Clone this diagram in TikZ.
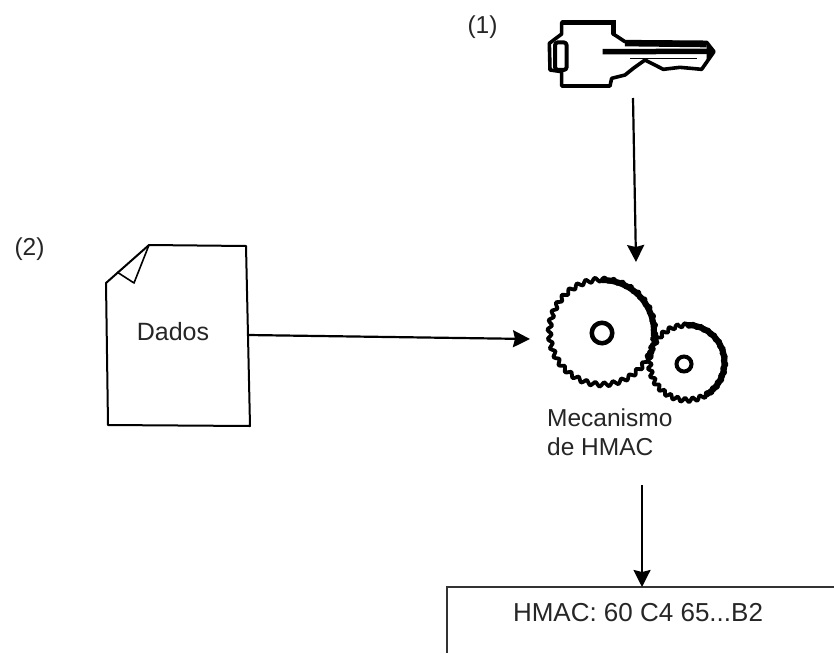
\documentclass[tikz,border=0pt]{standalone}
\usepackage{fontspec}
\setmainfont{Liberation Sans}
\usetikzlibrary{arrows.meta}
\tikzset{
  lbl/.style={font=\fontsize{24.5}{29}\selectfont, text=black!85, inner sep=0pt},
  ink/.style={draw=black, line width=2pt, line join=round},
  conn/.style={draw=black, line width=2.2pt, -{Stealth[length=17pt,width=17pt,inset=2pt]}},
  gearline/.style={draw=black, line width=3.8pt, line join=round}
}
\begin{document}
\begin{tikzpicture}[x=1pt,y=-1pt]
\useasboundingbox (0,0) rectangle (834,653);
\fill[white] (0,0) rectangle (834,653);
% key
\begin{scope}[xshift=530pt,yshift=-10pt,x=.3333pt,y=-.3333pt]
  \draw[ink,line width=3.6pt] (95,38) -- (250,38) -- (250,72) -- (285,95) -- (530,97) -- (552,125) -- (515,178) -- (450,172) -- (400,178) -- (345,150) -- (310,175) -- (285,195) -- (245,205) -- (240,228) -- (95,228) -- (95,185) -- (60,180) -- (58,100) -- (95,72) -- cycle;
  \draw[black,line width=5pt,line cap=round] (98,37) -- (250,37) -- (250,70);
  \draw[ink,line width=4pt,rounded corners=3pt] (75,97) rectangle (110,180);
  \draw[black,line width=5.5pt] (218,125) -- (545,124);
  \draw[black,line width=6pt] (285,100) -- (530,103);
  \draw[black,line width=1.5pt] (300,146) -- (500,146);
  \fill[black] (530,97) -- (556,125) -- (530,150) -- cycle;
\end{scope}
\coordinate (keyfoot) at (633,98);
\coordinate (geartop) at (636,262);
% document
\coordinate (d1) at (149,245);
\coordinate (d2) at (246,246);
\coordinate (d3) at (250,426);
\coordinate (d4) at (108,425);
\coordinate (d5) at (106,283);
\coordinate (d6) at (134,283);
\coordinate (d7) at (117,272);
\draw[ink] (d1) -- (d2) -- (d3) -- (d4) -- (d5) -- cycle;
\draw[ink,line width=1.6pt] (d1) -- (d6) -- (d7);
\node[lbl,font=\fontsize{25}{29}\selectfont] (dados) at (173,332) {Dados};
\coordinate (docout) at (248,335);
\coordinate (gearin) at (530,339);
% gears
\def\gear#1#2#3#4#5{\draw[gearline] plot[smooth cycle,domain=0:358,samples=#5*4] ({#1+(#3+#4*sin(#5*\x))*cos(\x)},{#2+(#3+#4*sin(#5*\x))*sin(\x)});}
\gear{602}{332}{52.5}{2.2}{36}
\gear{687}{362.5}{37.5}{2.2}{30}
\draw[black,line width=6pt] (602,280) arc[start angle=-90,end angle=5,radius=52];
\draw[black,line width=6pt] (687,325) arc[start angle=-90,end angle=60,radius=37.5];
\node[circle,draw=black,line width=4.5pt,minimum size=20.5pt,inner sep=0pt] (bighub) at (602,333) {};
\node[circle,draw=black,line width=4pt,minimum size=15pt,inner sep=0pt] (smallhub) at (684,364) {};
\node[lbl,align=left,anchor=north west] (mec) at (547,409) {Mecanismo\\de HMAC};
\coordinate (mecout) at (642,485);
% result box
\coordinate (bl) at (447,653);
\coordinate (tl) at (447,587);
\coordinate (tr) at (834,587);
\draw[black!80,line width=1.2pt] (bl) -- (tl) -- (tr);
\coordinate (boxtop) at (642,587);
\node[lbl,font=\fontsize{26}{30}\selectfont] (hmac) at (638,613) {HMAC: 60 C4 65...B2};
% labels
\node[lbl] (one) at (482.5,27) {(1)};
\node[lbl] (two) at (29.5,249) {(2)};
% connectors
\draw[conn] (keyfoot) -- (geartop);
\draw[conn] (docout) -- (gearin);
\draw[conn] (mecout) -- (boxtop);
\end{tikzpicture}
\end{document}
